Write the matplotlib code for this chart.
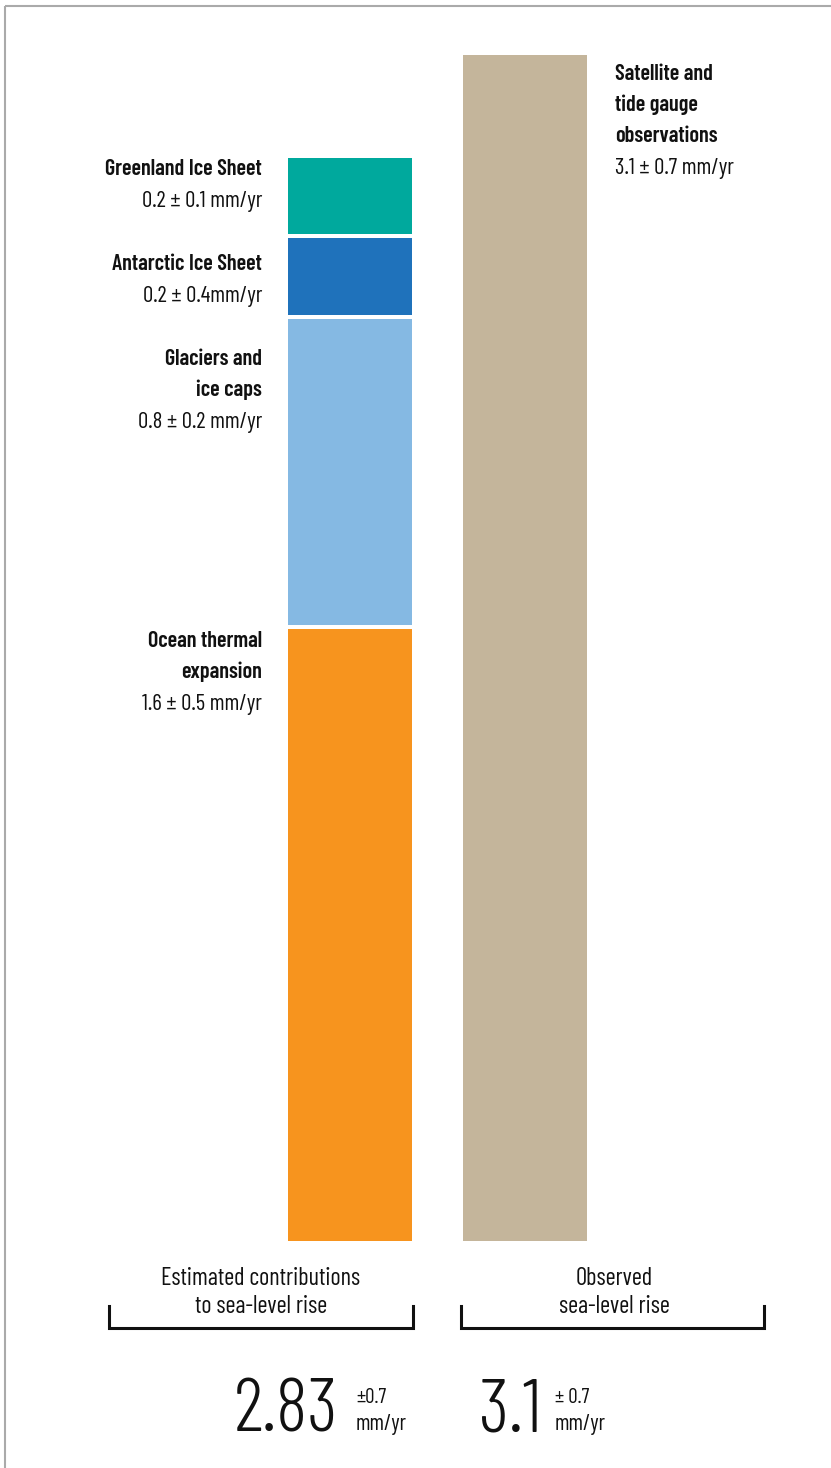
import numpy as np
import matplotlib.pyplot as plt

plt.rcParams['font.family'] = ['Barlow Condensed', 'DejaVu Sans']
plt.rcParams['font.stretch'] = 'condensed'

# contributions, bottom to top of the stacked bar (mm/yr)
sources = ["Ocean thermal\nexpansion", "Glaciers and\nice caps",
           "Antarctic Ice Sheet", "Greenland Ice Sheet"]
rates = [1.6, 0.8, 0.2, 0.2]
rate_labels = ["1.6 ± 0.5 mm/yr", "0.8 ± 0.2 mm/yr",
               "0.2 ± 0.4mm/yr", "0.2 ± 0.1 mm/yr"]
colors = ["#f7941e", "#85b9e3", "#1f72bb", "#00a99d"]

observed = 3.1
observed_name = "Satellite and\ntide gauge\nobservations"
observed_label = "3.1 ± 0.7 mm/yr"
observed_color = "#c4b59b"

group_labels = ["Estimated contributions\nto sea-level rise", "Observed\nsea-level rise"]
totals = ["2.83", "3.1"]
total_errs = ["±0.7", "± 0.7"]

W, H = 831, 1468
fig = plt.figure(figsize=(W / 100, H / 100), dpi=100)

# bar axes: y in mm/yr, 0 at px 1241 and 3.1 at px 55
y0_px, y1_px = 1241, 55
ax = fig.add_axes([0, (H - y0_px) / H, 1, (y0_px - y1_px) / H])
ax.set_ylim(0, observed)
ax.set_xlim(-2.0, (W - 350) / 175)
ax.axis('off')

bar_w = 124 / 175
gap = 4 / (y0_px - y1_px) * observed   # white gap between segments
bottoms = np.concatenate([[0], np.cumsum(rates)[:-1]]) + np.arange(len(rates)) * gap
ax.bar(np.zeros(len(rates)), rates, bottom=bottoms, width=bar_w, color=colors)
ax.bar([1], [observed], width=bar_w, color=observed_color)

# overlay in pixel coords for text and brackets
ov = fig.add_axes([0, 0, 1, 1], zorder=5)
ov.set_xlim(0, W)
ov.set_ylim(H, 0)
ov.axis('off')
ov.patch.set_alpha(0)

# thin grey frame on top and left
ov.plot([5, W], [6, 6], color="#aaaaaa", lw=1.5, solid_capstyle='butt')
ov.plot([5, 5], [6, H], color="#aaaaaa", lw=1.5, solid_capstyle='butt')

txt = '#111111'
bold_size = 16
val_size = 16.5
line = 31

# baselines of the first line of each label (px)
label_base = [647, 365, 270, 175]
for name, val, yb in zip(sources, rate_labels, label_base):
    parts = name.split("\n")
    for i, p in enumerate(parts):
        ov.text(262, yb + i * line, p, ha='right', va='baseline',
                fontsize=bold_size, fontweight=600, color=txt)
    ov.text(262, yb + len(parts) * line + 1, val, ha='right', va='baseline',
            fontsize=val_size, fontweight=400, color=txt)

parts = observed_name.split("\n")
for i, p in enumerate(parts):
    ov.text(615, 80 + i * line, p, ha='left', va='baseline',
            fontsize=bold_size, fontweight=600, color=txt)
ov.text(615, 80 + len(parts) * line + 1, observed_label, ha='left', va='baseline',
        fontsize=val_size, fontweight=400, color=txt)

# group captions and brackets
centers = [261, 614]
spans = [(109, 413), (461, 764)]
for c, lab, (xa, xb) in zip(centers, group_labels, spans):
    l1, l2 = lab.split("\n")
    ov.text(c, 1285, l1, ha='center', va='baseline', fontsize=17.5, fontweight=400, color=txt)
    ov.text(c, 1313, l2, ha='center', va='baseline', fontsize=17.5, fontweight=400, color=txt)
    ov.plot([xa, xa, xb, xb], [1306, 1328, 1328, 1306], color=txt, lw=2.2,
            solid_joinstyle='miter')

# totals
num_right = [338, 541]
small_left = [356, 555]
for t, e, xr, xl in zip(totals, total_errs, num_right, small_left):
    ov.text(xr, 1432, t, ha='right', va='baseline', fontsize=54, fontweight=300, color=txt)
    ov.text(xl, 1403, e, ha='left', va='baseline', fontsize=15, fontweight=400, color=txt)
    ov.text(xl, 1430, "mm/yr", ha='left', va='baseline', fontsize=16, fontweight=400, color=txt)

fig.savefig("out.png", dpi=100, facecolor='white')
